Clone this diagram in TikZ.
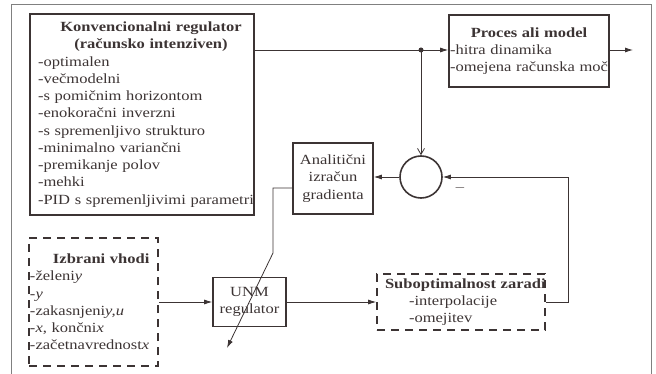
\documentclass[tikz,border=0pt]{standalone}
\usepackage{fontspec}
\setmainfont{Liberation Serif}[FakeStretch=1.18]
\usetikzlibrary{arrows.meta}
\definecolor{ink}{RGB}{60,52,52}
\tikzset{
  blok/.style={draw=ink, line width=1.6pt, text=ink, inner sep=2pt,
    font=\fontsize{14}{17.25}\selectfont},
  izbor/.style={blok, dash pattern=on 8pt off 6pt},
  vez/.style={draw=ink, line width=0.8pt},
}

\begin{document}
\begin{tikzpicture}[x=1pt, y=-1pt, >={Latex[length=8pt,width=5pt]}]
      \useasboundingbox (0,0) rectangle (656,374);

      % okvir
      \draw[gray, line width=1pt] (11,374) -- (11,5) -- (651,5) -- (651,374);

      % konvencionalni regulator
      \node[blok, text width=216pt, inner xsep=4pt, minimum height=201pt, align=left]
        (konv) at (142,114.5)
        {{\centering\bfseries\hspace*{18pt}Konvencionalni regulator\\
          \hspace*{18pt}(računsko intenziven)\par}
         \hspace*{4pt}-optimalen\\\hspace*{4pt}-večmodelni\\
         \hspace*{4pt}-s pomičnim horizontom\\\hspace*{4pt}-enokoračni inverzni\\
         \hspace*{4pt}-s spremenljivo strukturo\\\hspace*{4pt}-minimalno variančni\\
         \hspace*{4pt}-premikanje polov\\\hspace*{4pt}-mehki\\
         \hspace*{4pt}\makebox[212pt][l]{-PID s spremenljivimi parametri}};

      % proces
      \node[blok, text width=158pt, inner xsep=1pt, minimum height=72pt, align=left] (proc) at (529,51)
        {{\centering\bfseries Proces ali model\par}
         -hitra dinamika\\\makebox[158pt][l]{-omejena računska moč}};

      % gradient in sestevalnik
      \node[blok, minimum width=80pt, minimum height=71pt, align=center] (grad) at (333,178.5)
        {Analitični\\izračun\\gradienta};
      \node[draw=ink, line width=1.6pt, circle, minimum size=42pt] (sum) at (421,177) {};
      \node[text=ink, inner sep=0pt, font=\fontsize{14}{17}\selectfont] (minus) at (460,188) {$-$};

      % spodnja vrsta
      \node[izbor, text width=127pt, inner xsep=1pt, minimum height=128pt, align=left]
        (vhodi) at (93.5,302)
        {{\bfseries\hspace*{23pt}Izbrani vhodi}\\
         -želeni\textit{y}\\-\textit{y}\\-zakasnjeni\textit{y,u}\\
         -\textit{x}, končni\textit{x}\\-začetnavrednost\textit{x}};
      \node[blok, minimum width=73pt, minimum height=49pt, align=center] (unm) at (249.5,302)
        {UNM\\regulator};
      \node[izbor, text width=152pt, inner xsep=8pt, minimum height=56pt, align=left]
        (sub) at (461,302)
        {\makebox[152pt][l]{\bfseries Suboptimalnost zaradi}\\
         \hspace*{24pt}-interpolacije\\\hspace*{24pt}-omejitev};

      % tocke
      \coordinate (split) at (421,50);
      \coordinate (out) at (633,50);
      \coordinate (knee) at (273,188);
      \coordinate (bend) at (273,253);
      \coordinate (tune) at (227,348);
      \coordinate (fb) at (568,177);

      % povezave
      \draw[vez, ->] (konv.east |- split) -- (proc.west |- split);
      \fill[ink] (split) circle (2.5pt);
      \draw[vez, ->] (proc.east |- split) -- (out);
      \draw[vez, -{Straight Barb[length=6pt,width=7pt]}] (split) -- (sum.north);
      \draw[vez, ->] (sum.west) -- (grad.east |- sum.west);
      \draw[vez, ->] (grad.west |- knee) -- (knee) -- (bend) -- (tune);
      \draw[vez, ->] (vhodi.east) -- (unm.west);
      \draw[vez, ->] (unm.east) -- (sub.west);
      \draw[vez, ->] (sub.east) -| (fb) -- (sum.east);
    \end{tikzpicture}
\end{document}
